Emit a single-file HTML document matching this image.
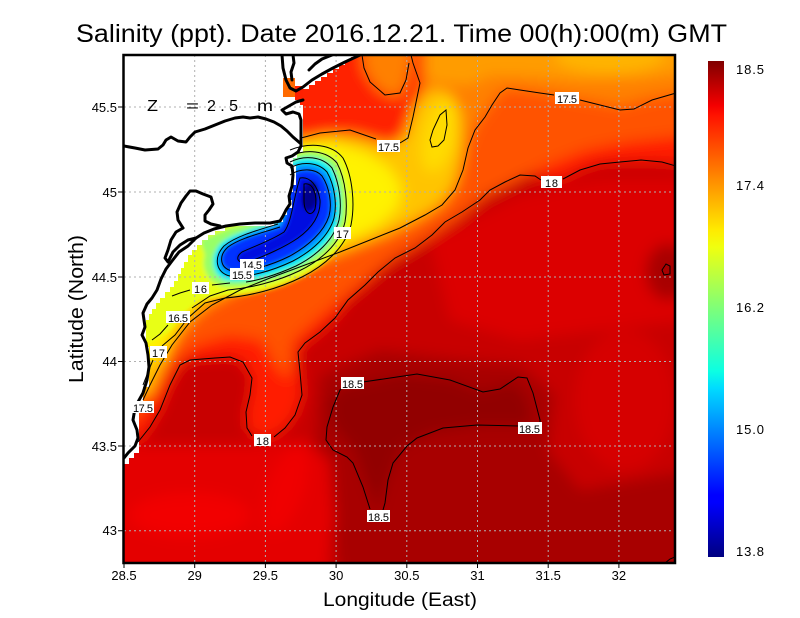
<!DOCTYPE html>
<html><head><meta charset="utf-8">
<style>
html,body{margin:0;padding:0;background:#fff;}
svg{display:block;}
text{font-family:"Liberation Sans",sans-serif;fill:#000;}
</style></head>
<body>
<svg width="800" height="618" viewBox="0 0 800 618" xmlns="http://www.w3.org/2000/svg">
<defs>
<clipPath id="plot"><rect x="124" y="55" width="551" height="508"/></clipPath>
<filter id="b8" x="-10%" y="-10%" width="120%" height="120%"><feGaussianBlur stdDeviation="7"/></filter>
<filter id="b3" x="-20%" y="-20%" width="140%" height="140%"><feGaussianBlur stdDeviation="2.2"/></filter>
<linearGradient id="cb" x1="0" y1="1" x2="0" y2="0">
<stop offset="0" stop-color="#000080"/>
<stop offset="0.11" stop-color="#0000ff"/>
<stop offset="0.125" stop-color="#0000ff"/>
<stop offset="0.34" stop-color="#00dbff"/>
<stop offset="0.375" stop-color="#0cffe2"/>
<stop offset="0.5" stop-color="#7dff7a"/>
<stop offset="0.625" stop-color="#f0ff0f"/>
<stop offset="0.66" stop-color="#ffea00"/>
<stop offset="0.89" stop-color="#ff1300"/>
<stop offset="0.91" stop-color="#f40000"/>
<stop offset="1" stop-color="#800000"/>
</linearGradient>
</defs>

<g clip-path="url(#plot)">
 <g filter="url(#b8)">
  <rect x="0" y="0" width="800" height="618" fill="#c80000"/>
  <path d="M430,240 L520,195 L600,178 L690,178 L690,320 L600,330 L520,340 L450,320 Z" fill="#dc0000"/>
  <ellipse cx="625" cy="400" rx="50" ry="70" fill="#d60000"/>
  <path d="M320,375 L380,350 L460,360 L520,365 L555,395 L548,450 L580,490 L690,470 L690,580 L340,580 L330,520 L315,450 Z" fill="#a80000"/>
  <path d="M340,388 L400,375 L450,380 L480,392 L515,383 L528,400 L532,425 L480,425 L430,432 L400,448 L388,480 L378,512 L365,480 L355,450 L335,428 L328,405 Z" fill="#920000"/>
  <ellipse cx="668" cy="272" rx="22" ry="28" fill="#a80000"/>
  <path d="M100,445 L250,445 L305,440 L330,460 L335,520 L325,580 L100,580 Z" fill="#e40000"/>
  <ellipse cx="190" cy="515" rx="60" ry="22" fill="#f20000"/>
  <ellipse cx="285" cy="490" rx="18" ry="45" fill="#f00000" transform="rotate(20 285 490)"/>
  <path d="M100,445 L140,440 L150,427 L160,410 L170,385 L180,365 L190,360 L215,358 L230,357 L243,362 L252,378 L250,395 L246,412 L247,428 L255,437 L272,437 L285,428 L295,415 L302,395 L300,372 L298,352 L305,343 L320,332 L335,318 L348,300 L365,285 L378,272 L395,258 L415,248 L432,235 L445,222 L462,212 L480,200 L490,190 L505,182 L520,175 L535,176 L552,180 L565,178 L580,170 L600,163 L620,162 L660,162 L690,165 L690,0 L100,0 Z" fill="#ff1c00"/>
  <path d="M100,425 L138,418 L155,392 L175,362 L195,345 L230,335 L262,340 L275,365 L288,380 L292,360 L292,342 L318,318 L350,292 L388,262 L428,238 L458,218 L484,197 L512,183 L545,166 L585,150 L625,142 L690,135 L690,0 L100,0 Z" fill="#ff5200"/>
  <path d="M100,405 L135,405 L148,385 L160,365 L172,345 L190,322 L212,305 L240,290 L272,278 L308,265 L342,252 L372,240 L402,228 L428,214 L448,198 L460,175 L466,148 L474,128 L486,110 L500,93 L508,88 L540,92 L580,99 L620,106 L650,98 L690,92 L690,0 L100,0 Z" fill="#ff8000"/>
  <path d="M415,0 L690,0 L690,72 L640,78 L580,80 L530,76 L490,75 L470,85 L430,82 L420,60 Z" fill="#ff9c00"/>
  <ellipse cx="610" cy="55" rx="55" ry="18" fill="#ffb400"/>
  <path d="M280,40 L362,40 L364,70 L378,90 L395,98 L404,92 L410,70 L414,40 L425,40 L422,85 L414,118 L410,140 L385,142 L352,133 L322,135 L300,142 L280,120 Z" fill="#ff2000"/>
  <path d="M300,140 L330,135 L360,140 L390,148 L405,135 L415,105 L430,90 L448,92 L460,115 L462,150 L455,185 L440,205 L415,220 L385,235 L350,248 L310,262 L270,276 L235,288 L205,303 L185,322 L170,345 L160,370 L150,395 L120,395 L120,140 Z" fill="#ffc400"/>
  <path d="M300,145 L330,142 L365,152 L390,168 L402,188 L398,208 L378,226 L348,240 L312,255 L272,268 L238,281 L208,295 L187,312 L172,336 L162,360 L120,360 L120,145 Z" fill="#fff200"/>
  <ellipse cx="440" cy="135" rx="16" ry="38" fill="#ffdc00" transform="rotate(15 440 135)"/>
 </g>
 <g filter="url(#b3)">
  <path d="M290,150 C310,142 332,144 343,158 C353,177 355,205 351,225 C345,248 324,266 302,277 C278,289 250,296 225,296 L200,300 L182,315 L168,332 L150,342 L120,342 L120,230 L200,225 L285,215 Z" fill="#e8ff18"/>
  <path d="M290,156 C306,149 326,150 337,163 C346,180 348,205 345,222 C340,244 320,261 299,271 C276,282 250,288 226,287 C210,285 200,270 205,255 L200,240 L230,228 L285,215 Z" fill="#98ff68"/>
  <path d="M290,162 C304,155 322,156 332,168 C340,184 342,205 339,220 C334,240 316,256 296,266 C274,276 248,283 228,281 C212,278 208,258 220,244 C232,233 256,228 276,222 L288,200 Z" fill="#10f0f0"/>
  <path d="M290,168 C302,161 318,162 327,172 C335,186 337,205 334,218 C329,236 312,251 293,261 C272,271 248,278 230,276 C216,273 213,258 224,246 C236,236 258,230 278,224 C285,215 286,195 290,168 Z" fill="#0098ff"/>
  <path d="M290,175 C300,168 315,168 322,176 C330,188 332,205 329,216 C324,232 308,246 290,256 C270,266 248,272 232,271 C220,268 218,256 228,247 C240,238 262,233 280,227 C288,218 288,200 290,175 Z" fill="#0030ff"/>
  <path d="M300,178 C310,176 318,186 320,200 C321,215 312,228 298,238 C285,247 265,256 248,262 C238,264 234,258 242,252 C255,246 272,240 284,232 C292,222 294,195 300,178 Z" fill="#0008e0"/>
  <ellipse cx="310" cy="196" rx="8" ry="15" fill="#00008c" transform="rotate(10 310 196)"/>
 </g>
 <!-- land -->
 <path d="M120,50 H357 V57 H351 V61 H345 V65 H339 V69 H333 V73 H327 V77 H321 V81 H315 V85 H309 V89 H303 V93 H300 V105 H303 V152 H297 V158 H293 V165 H296 V185 H293 V192 H290 V200 H292 V208 H287 V215 H283 V222 H274 V226 H225 V231 H215 V235 H208 V240 H202 V245 H197 V250 H192 V255 H188 V262 H184 V268 H181 V274 H178 V281 H174 V287 H170 V292 H165 V298 H160 V303 H156 V309 H152 V314 H149 V320 H146 V347 H149 V387 H143 V410 H139 V453 H134 V458 H129 V464 H120 Z" fill="#ffffff"/>
 <rect x="283" y="78" width="12" height="19" fill="#ff6a00"/>
 <rect x="295" y="86" width="8" height="14" fill="#ff2000"/>
 <!-- grid -->
 <g stroke="#b0b0b0" stroke-width="1" stroke-dasharray="2 3" fill="none">
  <path d="M194.7,55 V563 M265.4,55 V563 M336.1,55 V563 M406.8,55 V563 M477.5,55 V563 M548.2,55 V563 M618.9,55 V563"/>
  <path d="M124,107 H675 M124,192 H675 M124,277 H675 M124,361.5 H675 M124,446 H675 M124,530.7 H675"/>
 </g>
 <!-- contours -->
 <g stroke="#000" stroke-width="1" fill="none">
  <path d="M138,442 L150,427 L160,410 L170,385 L180,365 L190,360 L215,358 L230,357 L243,362 L252,378 L250,395 L246,412 L247,428 L252,436 M274,437 L285,428 L295,415 L302,395 L300,372 L298,352 L305,343 L320,332 L335,318 L348,300 L365,285 L378,272 L395,258 L415,248 L432,235 L445,222 L462,212 L480,200 L490,190 L505,182 L520,175 L535,176 L541,180 M563,179 L580,170 L600,164 L620,162 L641,160 L662,162 L676,166"/>
  <path d="M676,93 L652,100 L634,109 L620,110 L600,105 L580,100 M554,95 L540,93 L520,90 L507,88 L500,93 L492,105 L485,117 L475,130 L468,148 L463,170 L455,190 L442,205 L425,215 L400,228 L370,240 L340,252 L305,265 L270,278 L240,290 L212,305 L190,322 L172,345 L160,365 L150,385 L143,400"/>
  <path d="M301,138 L320,133 L350,130 L376,139 M400,143 L408,138 L413,117 L420,83 L413,63 L411,55"/>
  <path d="M362,55 L364,68 L370,82 L385,95 L400,93 L406,80 L409,63"/>
  <path d="M446,110 L440,115 L433,130 L430,140 L432,147 L438,146 L444,140 L447,125 Z"/>
  <path d="M290,150 C310,142 332,144 343,158 C353,177 355,205 351,225 C345,248 324,266 302,277 C278,289 250,296 225,298 L205,303 L188,318 L175,335 L162,346 M153,360 L148,372 L143,385"/>
  <path d="M290,156 C306,149 326,150 337,163 C346,180 348,205 345,222 C340,244 320,261 299,271 C276,282 250,288 228,290 L210,296 L192,308 M168,325 L160,334 L152,340"/>
  <path d="M290,162 C304,155 322,156 332,168 C340,184 342,205 339,220 C334,240 316,256 296,266 C274,276 255,281 246,282 M230,283 L212,285 M190,290 L180,293 L172,296"/>
  <path d="M290,168 C302,161 318,162 327,172 C335,186 337,205 334,218 C329,236 312,251 293,261 C272,271 248,278 230,276 C216,273 213,258 224,246 C236,236 258,230 278,224"/>
  <path d="M290,175 C300,168 315,168 322,176 C330,188 332,205 329,216 C324,232 308,246 290,256 C270,266 248,272 232,271 C220,268 218,256 228,247 C240,238 262,233 280,227"/>
  <path d="M300,178 C310,176 318,186 320,200 C321,215 312,228 298,238 C285,247 265,256 248,262 C238,264 234,258 242,252 C255,246 272,240 284,232 C292,222 294,195 300,178 Z"/>
  <path d="M304,184 C313,182 318,195 315,209 C311,218 304,213 304,200 Z"/>
  <path d="M363,382 L417,374 L450,380 L483,392 L500,389 L518,377 L527,378 L533,393 L540,420 L540,423 M518,426 L477,425 L443,428 L417,438 L407,446 L393,463 L388,480 L385,503 L383,510 M370,509 L363,487 L353,463 L347,457 L333,450 L326,440 L327,427 L333,407 L340,390 L343,387"/>
  <path d="M662,270 L666,264 L670,266 L670,274 L664,275 Z"/>
  <path d="M665,563 L670,559 L675,557"/>
 </g>
 <!-- coastline -->
 <g stroke="#000" stroke-width="3" fill="none" stroke-linejoin="round" stroke-linecap="round">
  <path d="M282,55 L283,68 L286,80 L290,88 L296,91 L303,87 L312,80 L322,74 L333,68 L345,62 L360,55"/>
  <path d="M293,55 L294,63 L291,72 L292,80"/>
  <path d="M309,70 L315,64 L322,59 L332,55"/>
  <path d="M303,100 L296,102 L289,106 L282,110 L286,114 L293,112 L299,114 L301,120 L301,135 L301,146 L298,152 L292,156 L286,158 L287,163 L292,166 L293,175 L292,186 L289,196 L290,204 L286,210 L283,216 L280,221 L270,223 L255,223 L240,224 L226,226 L214,229 L204,233 L196,238 L188,246 L179,252 L172,261 L166,269 L161,279 L157,290 L152,298 L147,304 L143,313 L145,327 L142,335 L146,343 L148,355 L149,367 L147,380 L143,393 L138,402 L135,408 L133,420 L137,430 L138,438 L135,446 L128,453 L124,458"/>
  <path d="M124,146 L135,148 L145,150 L158,149 L163,145 L166,140 L171,137 L178,141 L186,142 L190,137 L195,132 L205,129 L215,125 L225,121 L235,118 L243,117 L250,118 L258,117 L266,119 L274,122 L281,126 L287,131 L293,137 L300,143"/>
  <path d="M183,228 L178,220 L177,212 L181,203 L186,196 L190,191 L196,191 L203,194 L211,197 L213,204 L209,210 L205,215 L205,221 L211,224 L220,226"/>
  <path d="M183,228 L176,232 L171,240 L168,250 L165,258 L168,262 L173,252 L180,245 L188,240 L196,238"/>
 </g>
 <!-- contour labels -->
 <g font-size="11">
  <rect x="555" y="92" width="24" height="12" fill="#fff"/><text x="557" y="103" textLength="20">17.5</text>
  <rect x="541" y="176" width="21" height="12" fill="#fff"/><text x="545" y="187" textLength="13">18</text>
  <rect x="377" y="140" width="23" height="12" fill="#fff"/><text x="378" y="151" textLength="21">17.5</text>
  <rect x="334" y="227" width="17" height="12" fill="#fff"/><text x="336" y="238" textLength="13">17</text>
  <rect x="240" y="259" width="24" height="11" fill="#fff"/><text x="242" y="269" textLength="20">14.5</text>
  <rect x="230" y="268" width="24" height="12" fill="#fff"/><text x="232" y="279" textLength="20">15.5</text>
  <rect x="192" y="282" width="17" height="12" fill="#fff"/><text x="194" y="293" textLength="13">16</text>
  <rect x="166" y="311" width="24" height="12" fill="#fff"/><text x="168" y="322" textLength="20">16.5</text>
  <rect x="150" y="346" width="17" height="12" fill="#fff"/><text x="152" y="357" textLength="13">17</text>
  <rect x="132" y="401" width="22" height="12" fill="#fff"/><text x="133" y="412" textLength="20">17.5</text>
  <rect x="254" y="434" width="17" height="12" fill="#fff"/><text x="256" y="445" textLength="13">18</text>
  <rect x="341" y="377" width="23" height="12" fill="#fff"/><text x="342" y="388" textLength="21">18.5</text>
  <rect x="518" y="422" width="24" height="12" fill="#fff"/><text x="519" y="433" textLength="21">18.5</text>
  <rect x="367" y="510" width="23" height="12" fill="#fff"/><text x="368" y="521" textLength="21">18.5</text>
 </g>
 <g font-size="16" fill="#333">
  <text x="147" y="111" textLength="11" lengthAdjust="spacingAndGlyphs">Z</text>
  <text x="186" y="111" textLength="13" lengthAdjust="spacingAndGlyphs">=</text>
  <text x="207" y="111" textLength="31" lengthAdjust="spacing">2.5</text>
  <text x="257" y="111" textLength="16" lengthAdjust="spacingAndGlyphs">m</text>
 </g>
</g>

<!-- frame -->
<rect x="123.5" y="55" width="551.5" height="508" fill="none" stroke="#000" stroke-width="2.5"/>
<g stroke="#000" stroke-width="1">
 <path d="M124,563 V568 M194.7,563 V568 M265.4,563 V568 M336.1,563 V568 M406.8,563 V568 M477.5,563 V568 M548.2,563 V568 M618.9,563 V568"/>
 <path d="M118,107 H123 M118,192 H123 M118,277 H123 M118,361.5 H123 M118,446 H123 M118,530.7 H123"/>
</g>
<g font-size="13" text-anchor="middle">
 <text x="124" y="580">28.5</text>
 <text x="194.7" y="580">29</text>
 <text x="265.4" y="580">29.5</text>
 <text x="336.1" y="580">30</text>
 <text x="406.8" y="580">30.5</text>
 <text x="477.5" y="580">31</text>
 <text x="548.2" y="580">31.5</text>
 <text x="618.9" y="580">32</text>
</g>
<g font-size="13" text-anchor="end">
 <text x="117" y="112">45.5</text>
 <text x="117" y="197">45</text>
 <text x="117" y="282">44.5</text>
 <text x="117" y="366">44</text>
 <text x="117" y="451">43.5</text>
 <text x="117" y="535">43</text>
</g>

<!-- colorbar -->
<rect x="708" y="61" width="16" height="496" fill="url(#cb)"/>
<g font-size="13">
 <text x="736" y="74" textLength="28">18.5</text>
 <text x="736" y="190" textLength="28">17.4</text>
 <text x="736" y="312" textLength="28">16.2</text>
 <text x="736" y="434" textLength="28">15.0</text>
 <text x="736" y="556" textLength="28">13.8</text>
</g>

<!-- titles -->
<text x="76" y="42" font-size="25" textLength="651" lengthAdjust="spacingAndGlyphs">Salinity (ppt). Date 2016.12.21. Time 00(h):00(m) GMT</text>
<text x="323" y="606" font-size="19" textLength="154" lengthAdjust="spacingAndGlyphs">Longitude (East)</text>
<text transform="translate(83,383) rotate(-90)" x="0" y="0" font-size="20" textLength="148" lengthAdjust="spacingAndGlyphs">Latitude (North)</text>
</svg>
</body></html>
